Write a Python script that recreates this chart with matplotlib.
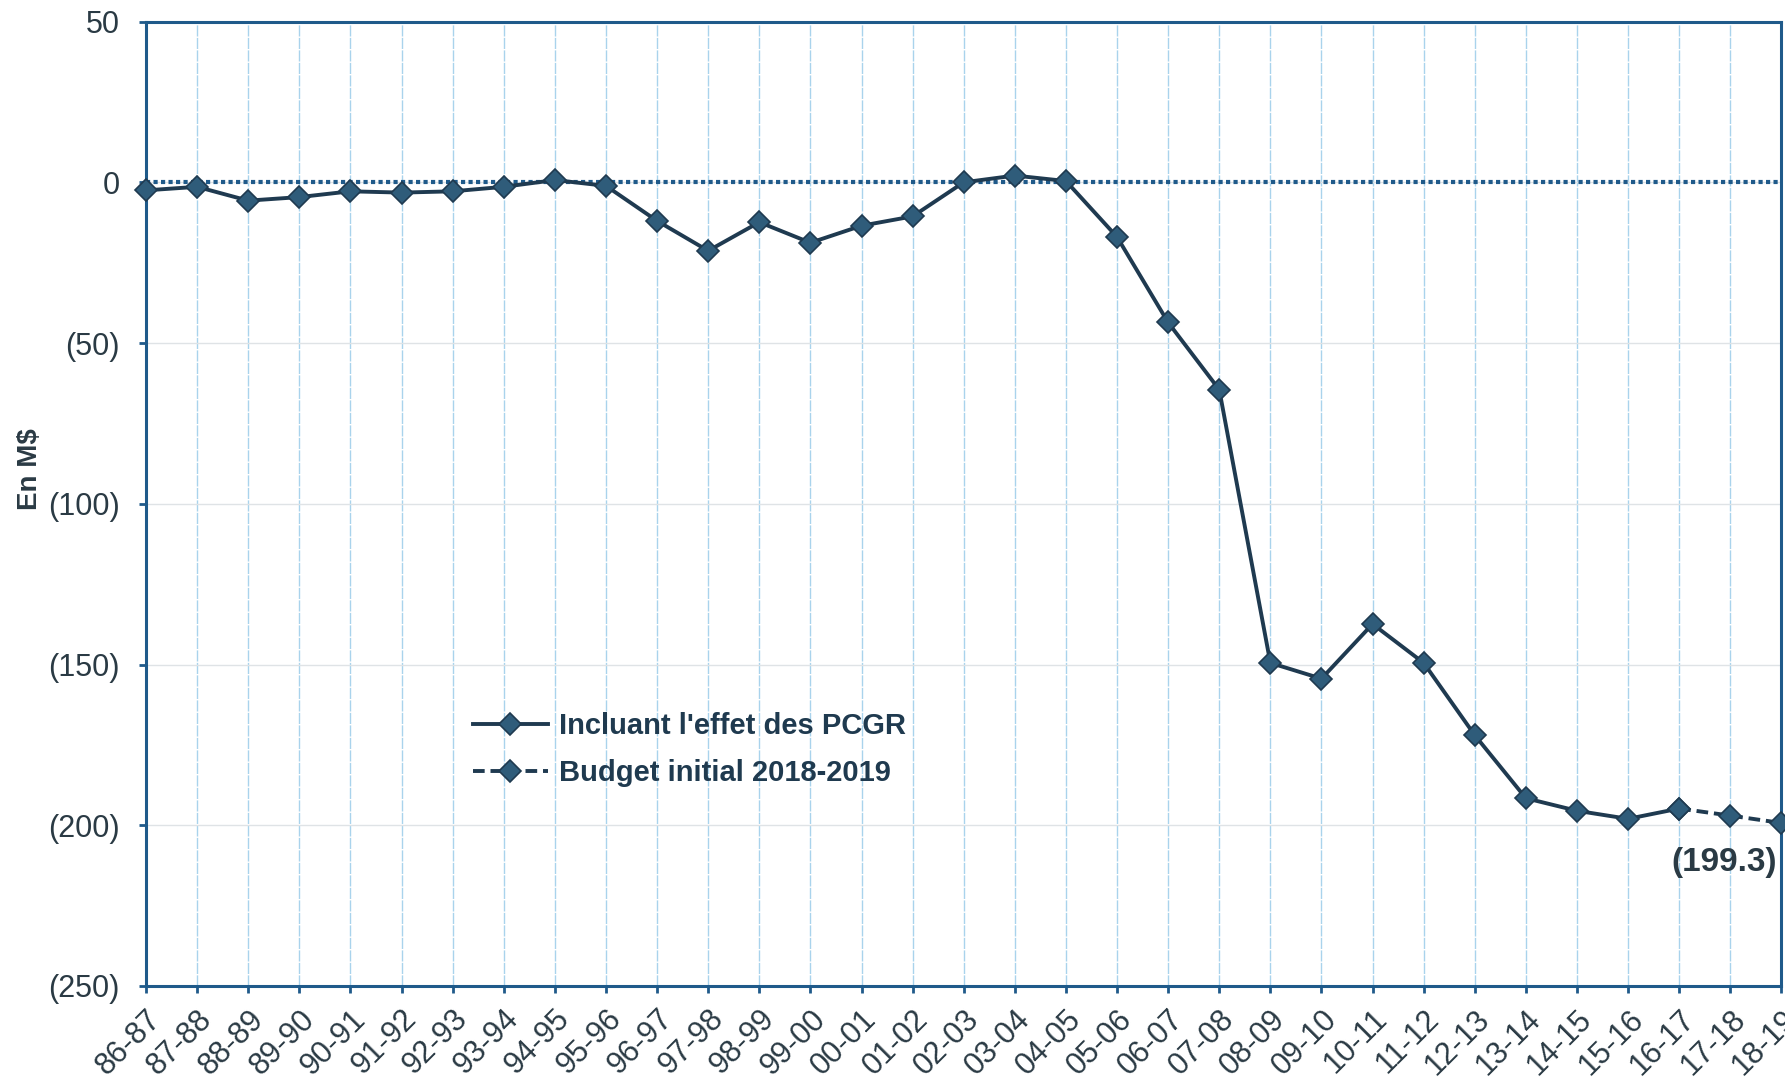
import matplotlib.pyplot as plt
import numpy as np

plt.rcParams['font.family'] = ['Liberation Sans', 'DejaVu Sans']

years = ['86-87', '87-88', '88-89', '89-90', '90-91', '91-92', '92-93', '93-94',
         '94-95', '95-96', '96-97', '97-98', '98-99', '99-00', '00-01', '01-02',
         '02-03', '03-04', '04-05', '05-06', '06-07', '07-08', '08-09', '09-10',
         '10-11', '11-12', '12-13', '13-14', '14-15', '15-16', '16-17', '17-18',
         '18-19']

# actual results incl. PCGR effect (86-87 .. 16-17)
pcgr = [-2.5, -1.4, -5.7, -4.6, -2.8, -3.2, -2.8, -1.4, 0.7, -1.1, -12.0,
        -21.3, -12.4, -18.8, -13.5, -10.6, 0.0, 2.1, 0.4, -17.0, -43.6, -64.5,
        -149.5, -154.4, -137.4, -149.5, -172.0, -191.6, -195.5, -198.0, -194.8]

# budget 2018-2019 (16-17 .. 18-19)
budget = [-194.8, -197.0, -199.3]

y_ticks = [50, 0, -50, -100, -150, -200, -250]
y_labels = ['50', '0', '(50)', '(100)', '(150)', '(200)', '(250)']

line_c = '#1f3a50'
marker_c = '#2f5c7a'
spine_c = '#1f5a8a'
text_c = '#2a3a44'

fig = plt.figure(figsize=(17.85, 10.79), dpi=100)
ax = fig.add_axes([0.0818, 0.0862, 0.9162, 0.8938])

x = np.arange(len(years))
x_budget = x[len(pcgr) - 1:]

ax.set_xlim(0, len(years) - 1)
ax.set_ylim(-250, 50)

# grid
for xi in x:
    ax.axvline(xi, color='#a9d3ec', lw=1.0, ls=(0, (8, 1)), zorder=0)
for yt in y_ticks:
    ax.axhline(yt, color='#dfe3e6', lw=1.0, zorder=0)
ax.axhline(0, color=spine_c, lw=3, ls=(0, (1, 0.8)), zorder=1)

ax.plot(x[:len(pcgr)], pcgr, color=line_c, lw=2.8, marker='D', ms=11,
        mfc=marker_c, mec=line_c, mew=1.2, label="Incluant l'effet des PCGR",
        zorder=3, clip_on=False)
ax.plot(x_budget, budget, color=line_c, lw=2.8, ls=(0, (3, 1.5)), marker='D',
        ms=11, mfc=marker_c, mec=line_c, mew=1.2,
        label='Budget initial 2018-2019', zorder=3, clip_on=False)

ax.text(x[-1] - 0.08, -211.5, '(199.3)', ha='right', va='center', fontsize=24,
        fontweight='bold', color=text_c)

ax.set_yticks(y_ticks)
ax.set_yticklabels(y_labels, fontsize=22, color=text_c)
ax.set_xticks(x)
ax.set_xticklabels(years, rotation=45, ha='right', rotation_mode='anchor',
                   fontsize=22, color=text_c)
ax.tick_params(axis='both', color=spine_c, width=2, length=5)
ax.tick_params(axis='x', pad=8)
ax.tick_params(axis='y', pad=14)

for s in ax.spines.values():
    s.set_color(spine_c)
    s.set_linewidth(2.2)

ax.set_ylabel('En M$', fontsize=20, fontweight='bold', color=text_c)
ax.yaxis.set_label_coords(-0.063, 0.536)

leg = fig.legend(loc='upper left', bbox_to_anchor=(0.25, 0.364), frameon=False,
                 handlelength=2.6, handletextpad=0.35, labelspacing=0.65,
                 prop={'size': 21, 'weight': 'bold'})
for t in leg.get_texts():
    t.set_color('#1f3a4f')

fig.savefig('out.png', dpi=100)
